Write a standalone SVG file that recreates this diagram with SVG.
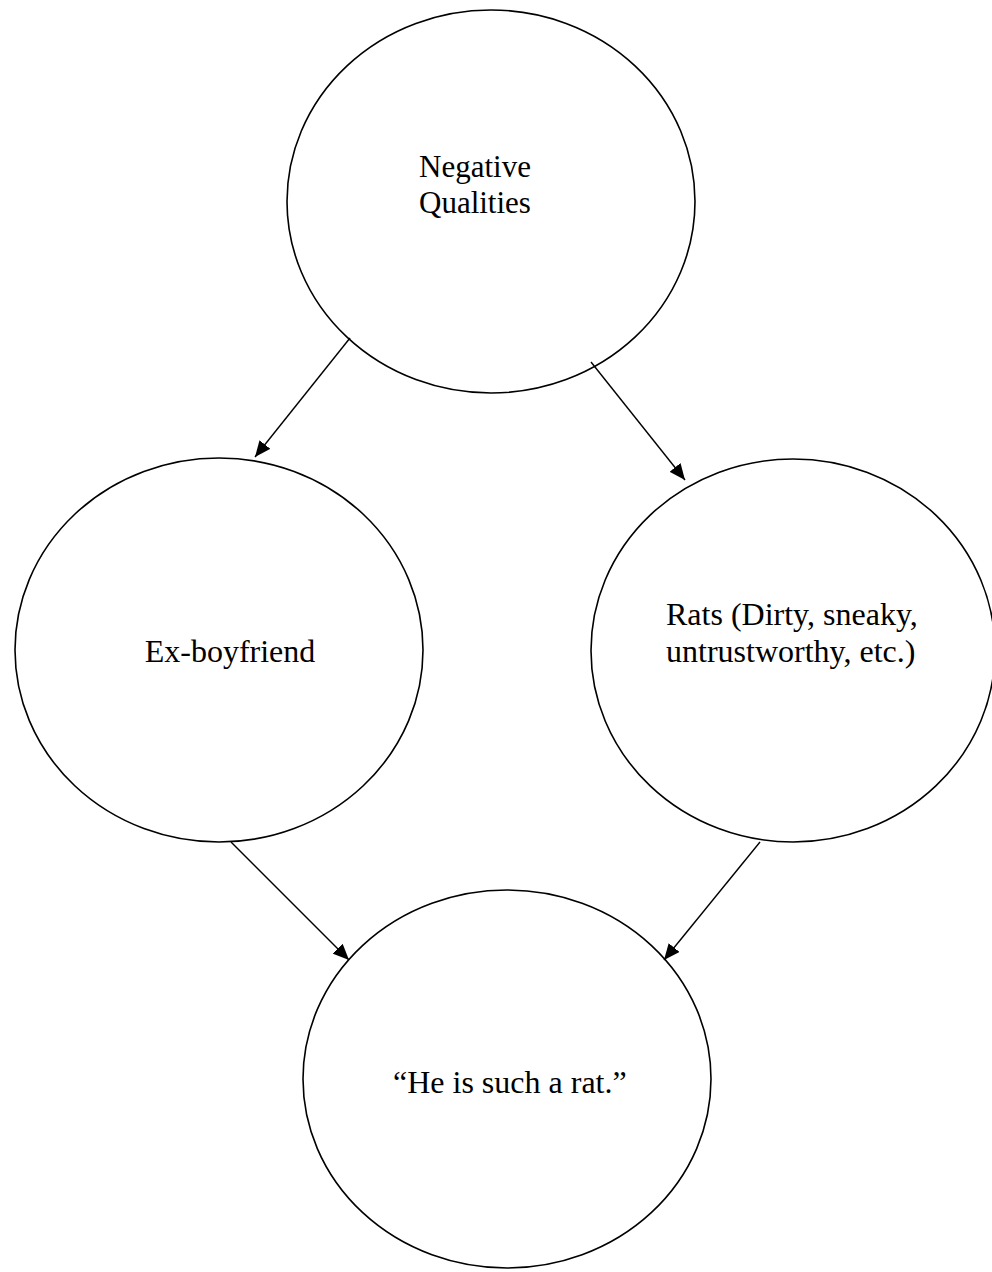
<svg xmlns="http://www.w3.org/2000/svg" width="992" height="1272" viewBox="0 0 992 1272">
  <style>
    .node { fill: #ffffff; stroke: #000000; stroke-width: 1.6; }
    .label { font-family: "Liberation Serif", "Times New Roman", serif; font-size: 32px; fill: #000000; }
    .edge { stroke: #000000; stroke-width: 1.4; fill: none; marker-end: url(#arrow); }
  </style>
  <defs>
    <marker id="arrow" markerUnits="userSpaceOnUse" markerWidth="16" markerHeight="14" refX="16" refY="7" orient="auto">
      <path d="M0,0 L16,7 L0,14 Z" fill="#000000"/>
    </marker>
  </defs>
  <rect x="0" y="0" width="992" height="1272" fill="#ffffff"/>

  <g id="node-negative-qualities">
    <ellipse class="node" cx="491" cy="201.5" rx="204" ry="191.5"/>
    <text class="label" x="419" y="177" style="font-size:31px">Negative</text>
    <text class="label" x="419" y="213" style="font-size:31px">Qualities</text>
  </g>

  <g id="node-ex-boyfriend">
    <ellipse class="node" cx="219" cy="650" rx="204" ry="192"/>
    <text class="label" x="230" y="662" text-anchor="middle">Ex-boyfriend</text>
  </g>

  <g id="node-rats">
    <ellipse class="node" cx="793" cy="650.5" rx="202" ry="191.5"/>
    <text class="label" x="666" y="625">Rats (Dirty, sneaky,</text>
    <text class="label" x="666" y="662">untrustworthy, etc.)</text>
  </g>

  <g id="node-such-a-rat">
    <ellipse class="node" cx="507" cy="1079" rx="204" ry="189"/>
    <text class="label" x="393" y="1093">“He is such a rat.”</text>
  </g>

  <g id="connectors">
    <line class="edge" x1="350" y1="338" x2="255" y2="457"/>
    <line class="edge" x1="591" y1="362" x2="685" y2="480"/>
    <line class="edge" x1="231" y1="842" x2="349" y2="960"/>
    <line class="edge" x1="760" y1="842" x2="664" y2="960"/>
  </g>
</svg>
